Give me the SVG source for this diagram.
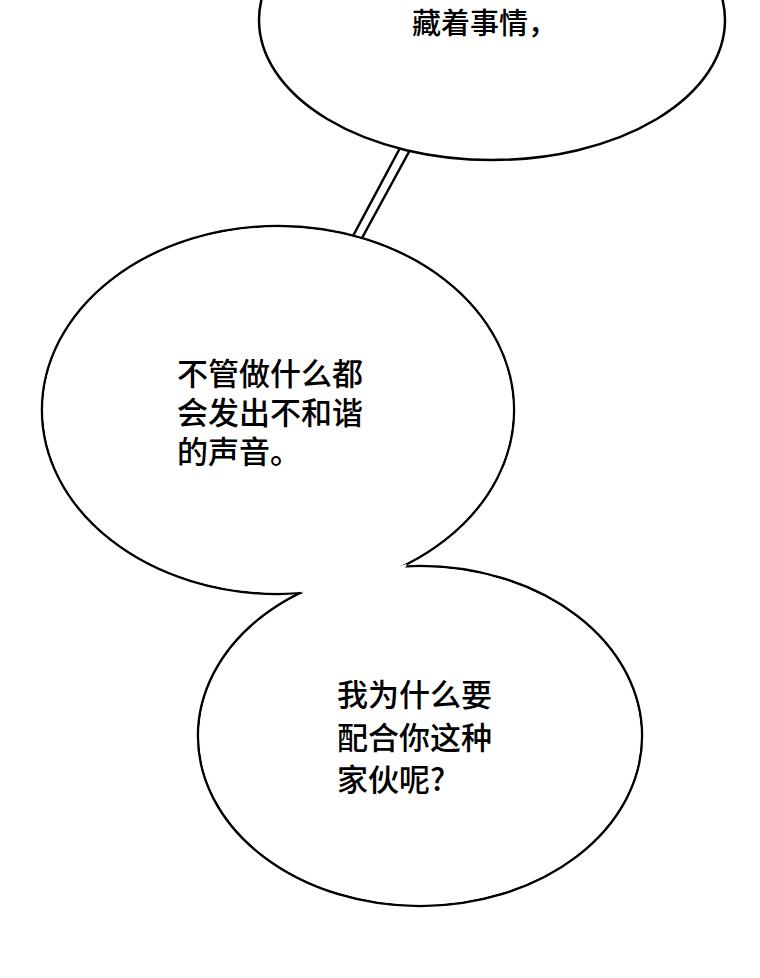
<svg xmlns="http://www.w3.org/2000/svg" width="760" height="978" viewBox="0 0 760 978">
<style>
.s{fill:none;stroke:#000;stroke-width:2.5}
.f{fill:#fff;stroke:none}
text{font-family:"Noto Sans CJK SC",sans-serif;font-size:31px;font-weight:500;fill:#000}
</style>
<rect width="760" height="978" fill="#fff"/>
<g id="connectors">
<polygon points="400,148 410,150 362,238 353,236" fill="#fff"/>
<line x1="400" y1="148" x2="353" y2="236" class="s"/>
<line x1="410" y1="150" x2="362" y2="238" class="s"/>
</g>
<g id="bubble-top">
<ellipse cx="492" cy="20" rx="233" ry="140" class="s" style="fill:#fff"/>
<text x="412" y="34" style="font-size:29px">藏着事情，</text>
</g>
<g id="bubbles-bottom">
<ellipse cx="278" cy="410" rx="236" ry="184" class="s"/>
<ellipse cx="420" cy="736" rx="222" ry="170" class="s"/>
<ellipse cx="278" cy="410" rx="234.7" ry="182.7" class="f"/>
<ellipse cx="420" cy="736" rx="220.7" ry="168.7" class="f"/>
<path d="M300,592 L330,600 L400,580 L407,564 Z" class="f"/>
</g>
<g id="text-mid">
<text x="177" y="385">不管做什么都</text>
<text x="177" y="424">会发出不和谐</text>
<text x="177" y="463">的声音。</text>
</g>
<g id="text-bottom">
<text x="337" y="706">我为什么要</text>
<text x="337" y="749">配合你这种</text>
<text x="337" y="791">家伙呢?</text>
</g>
</svg>
